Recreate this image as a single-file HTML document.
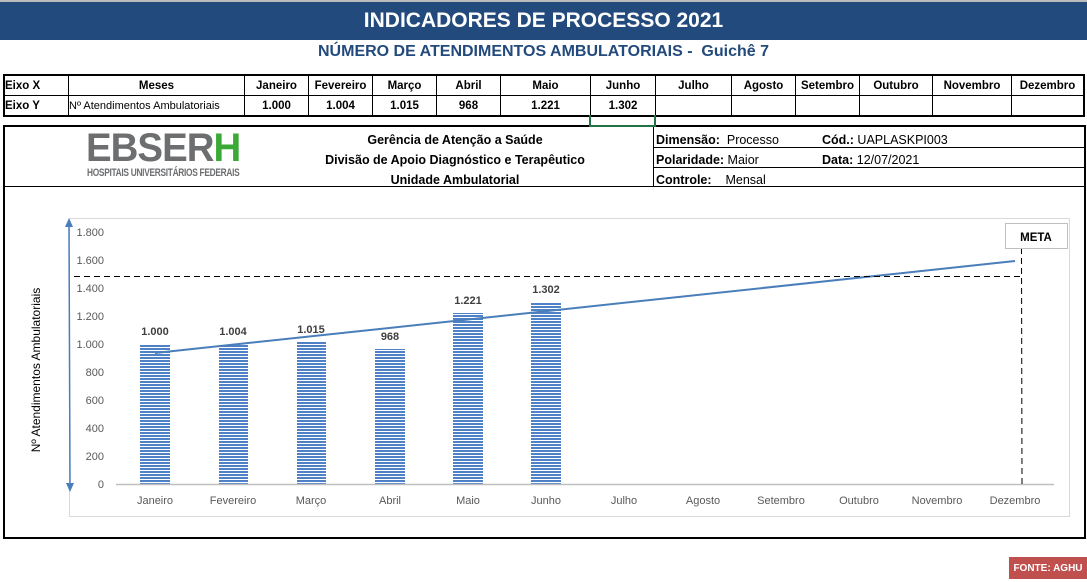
<!DOCTYPE html>
<html><head><meta charset="utf-8"><style>
body{margin:0;width:1087px;height:582px;background:#fff;font-family:"Liberation Sans",sans-serif;position:relative;overflow:hidden}
.a{position:absolute}
table{border-collapse:collapse;position:absolute;left:3px;top:74px;font-size:11.5px;font-weight:bold}
td{border:1px solid #000;height:19px;padding:0;text-align:center}
</style></head><body>
<div class="a" style="left:0;top:0;width:1087px;height:2px;background:#bbb"></div>
<div class="a" style="left:0;top:2px;width:1087px;height:38px;background:#234a7c;color:#fff;font-weight:bold;font-size:21px;text-align:center;line-height:38px">INDICADORES DE PROCESSO 2021</div>
<div class="a" style="left:0;top:43px;width:1087px;text-align:center;color:#234a7c;font-weight:bold;font-size:16px">NÚMERO DE ATENDIMENTOS AMBULATORIAIS -&nbsp; Guichê 7</div>
<table style="border:2px solid #000">
<tr><td style="width:63px;text-align:left">Eixo X</td><td style="width:175px">Meses</td><td style="width:63px">Janeiro</td><td style="width:63px">Fevereiro</td><td style="width:63px">Março</td><td style="width:63px">Abril</td><td style="width:89px">Maio</td><td style="width:64px">Junho</td><td style="width:75px">Julho</td><td style="width:63px">Agosto</td><td style="width:63px">Setembro</td><td style="width:72px">Outubro</td><td style="width:78px">Novembro</td><td style="width:71px">Dezembro</td></tr>
<tr><td style="text-align:left">Eixo Y</td><td style="font-weight:normal;text-align:left;font-size:11px">Nº Atendimentos Ambulatoriais</td><td>1.000</td><td>1.004</td><td>1.015</td><td>968</td><td>1.221</td><td>1.302</td><td></td><td></td><td></td><td></td><td></td><td></td></tr>
</table>
<div class="a" style="left:3px;top:125px;width:1079px;height:410px;border:2px solid #000"></div>
<div class="a" style="left:589px;top:115px;width:63px;height:10px;border:2px solid #217346;border-top:none;z-index:5"></div>
<div class="a" style="left:5px;top:186px;width:1079px;height:1px;background:#000"></div>
<div class="a" style="left:653px;top:127px;width:1px;height:59px;background:#000"></div>
<div class="a" style="left:654px;top:147px;width:430px;height:1px;background:#000"></div>
<div class="a" style="left:654px;top:167px;width:430px;height:1px;background:#000"></div>
<div class="a" style="left:86px;top:130px;font-size:40px;font-weight:bold;color:#6d6e70;letter-spacing:-1px;line-height:36px;transform:scaleX(0.96);transform-origin:0 0">EBSER<span style="color:#3aa935">H</span></div>
<div class="a" style="left:87px;top:167px;font-size:11px;font-weight:bold;color:#6d6e70;letter-spacing:-0.4px;transform:scaleX(0.76);transform-origin:0 0;white-space:nowrap">HOSPITAIS UNIVERSITÁRIOS FEDERAIS</div>
<div class="a" style="left:260px;top:130px;width:390px;text-align:center;font-weight:bold;font-size:12.5px;line-height:20px">Gerência de Atenção a Saúde<br>Divisão de Apoio Diagnóstico e Terapêutico<br>Unidade Ambulatorial</div>
<div class="a" style="left:656px;top:130px;font-size:12.5px;line-height:20px"><b>Dimensão:</b>&nbsp; Processo<br><b>Polaridade:</b> Maior<br><b>Controle:</b> &nbsp;&nbsp; Mensal</div>
<div class="a" style="left:822px;top:130px;font-size:12.5px;line-height:20px"><b>Cód.:</b> UAPLASKPI003<br><b>Data:</b> 12/07/2021</div>
<svg class="a" style="left:0;top:0" width="1087" height="582" font-family="Liberation Sans, sans-serif">
<defs><pattern id="h" width="4" height="3" patternUnits="userSpaceOnUse"><rect width="4" height="3" fill="#fff"/><rect width="4" height="2" fill="#4f81c7"/></pattern></defs>
<rect x="69.5" y="218.5" width="1000" height="298" fill="none" stroke="#d9d9d9"/>
<g fill="#595959" font-size="11" text-anchor="end">
<text x="104" y="488">0</text><text x="104" y="460">200</text><text x="104" y="432">400</text><text x="104" y="404">600</text><text x="104" y="376">800</text><text x="104" y="348">1.000</text><text x="104" y="320">1.200</text><text x="104" y="292">1.400</text><text x="104" y="264">1.600</text><text x="104" y="236">1.800</text>
</g>
<g fill="url(#h)">
<rect x="140" y="344" width="30" height="140"/><rect x="219" y="344" width="29" height="140"/><rect x="297" y="342" width="29" height="142"/><rect x="375" y="349" width="30" height="135"/><rect x="453" y="313" width="30" height="171"/><rect x="531" y="302" width="30" height="182"/>
</g>
<line x1="116" y1="484.5" x2="1054" y2="484.5" stroke="#bfbfbf" stroke-width="1.5"/>
<g fill="#404040" font-size="11" font-weight="bold" text-anchor="middle">
<text x="155" y="335">1.000</text><text x="233" y="335">1.004</text><text x="311" y="333">1.015</text><text x="390" y="340">968</text><text x="468" y="304">1.221</text><text x="546" y="293">1.302</text>
</g>
<g fill="#595959" font-size="11" text-anchor="middle">
<text x="155" y="504">Janeiro</text><text x="233" y="504">Fevereiro</text><text x="311" y="504">Março</text><text x="390" y="504">Abril</text><text x="468" y="504">Maio</text><text x="546" y="504">Junho</text><text x="624" y="504">Julho</text><text x="703" y="504">Agosto</text><text x="781" y="504">Setembro</text><text x="859" y="504">Outubro</text><text x="937" y="504">Novembro</text><text x="1015" y="504">Dezembro</text>
</g>
<line x1="155" y1="353" x2="1015" y2="261" stroke="#4a7ebb" stroke-width="2"/>
<line x1="74" y1="276.5" x2="1021" y2="276.5" stroke="#000" stroke-dasharray="6,4"/>
<line x1="1021.5" y1="248" x2="1022" y2="484" stroke="#000" stroke-dasharray="6,4"/>
<rect x="1005.5" y="223.5" width="62" height="25" fill="#fff" stroke="#bfbfbf"/>
<text x="1036" y="241" font-size="11.5" font-weight="bold" text-anchor="middle">META</text>
<line x1="69" y1="226" x2="70" y2="485" stroke="#4a7ebb" stroke-width="1.5"/>
<path d="M65,227 L69,218 L73,227Z M66,483 L70,492 L74,483Z" fill="#4a7ebb"/>
<text transform="translate(40,370) rotate(-90)" font-size="12" text-anchor="middle" fill="#000">Nº Atendimentos Ambulatoriais</text>
</svg>
<div class="a" style="left:1009px;top:557px;width:78px;height:22px;background:#c0504d;color:#fff;font-size:10px;font-weight:bold;line-height:24px;text-align:center">FONTE: AGHU</div>
</body></html>
